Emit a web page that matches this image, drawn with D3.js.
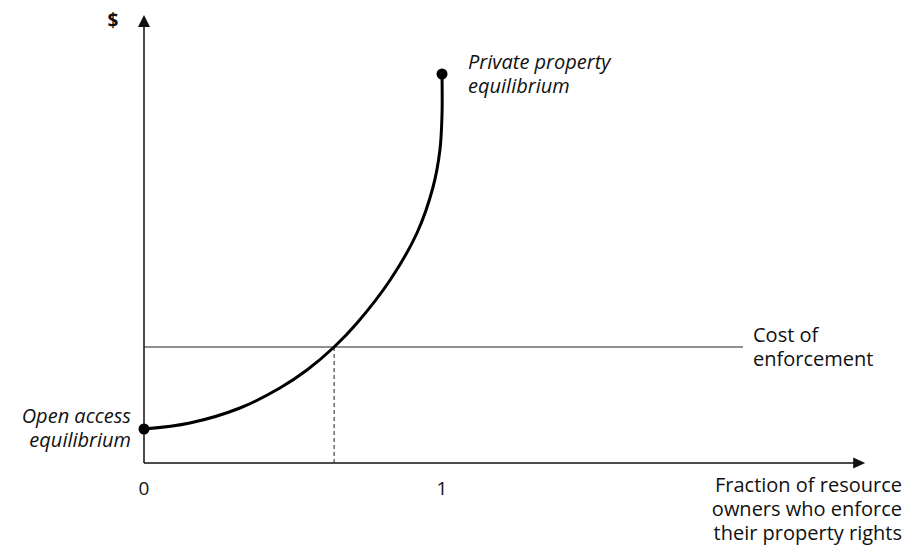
<!DOCTYPE html>
<html>
<head>
<meta charset="utf-8">
<script src="https://cdn.jsdelivr.net/npm/d3@7"></script>
<style>
  body { margin: 0; background: #fff; }
  svg text { font-family: "Open Sans", sans-serif; fill: #111; }
</style>
</head>
<body>
<svg width="911" height="547"></svg>
<script>
// fraction of owners who enforce (x) vs $ (y, arbitrary units)
var curveX = [0, 0.154, 0.322, 0.456, 0.547, 0.638, 0.715, 0.826, 0.916, 0.970, 0.993, 1.0, 1.0];
var curveY = [0.85, 1.0, 1.375, 1.875, 2.325, 2.9, 3.5, 4.575, 5.75, 6.9, 7.825, 8.7, 9.725];
var costOfEnforcement = 2.9;
var xTicks = [0, 1];
var xMax = 2.42;
var yMax = 11.2;

var svg = d3.select('svg');

var x = d3.scaleLinear().domain([0, 1]).range([144, 442]);
var y = d3.scaleLinear().domain([0, 10]).range([463, 63]);

var points = curveX.map((d, i) => [d, curveY[i]]);

// axes
var axisColor = '#111';
svg.append('line')
  .attr('x1', x(0)).attr('y1', y(0))
  .attr('x2', x(xMax) - 8).attr('y2', y(0))
  .attr('stroke', axisColor).attr('stroke-width', 1.5);
svg.append('path')
  .attr('d', `M${x(xMax)},${y(0)} L${x(xMax) - 12},${y(0) - 5.5} L${x(xMax) - 12},${y(0) + 5.5} Z`)
  .attr('fill', axisColor);

svg.append('line')
  .attr('x1', x(0)).attr('y1', y(0))
  .attr('x2', x(0)).attr('y2', y(yMax) + 8)
  .attr('stroke', axisColor).attr('stroke-width', 1.5);
svg.append('path')
  .attr('d', `M${x(0)},${y(yMax)} L${x(0) - 6},${y(yMax) + 12} L${x(0) + 6},${y(yMax) + 12} Z`)
  .attr('fill', axisColor);

// cost of enforcement
svg.append('line')
  .attr('x1', x(0)).attr('y1', y(costOfEnforcement))
  .attr('x2', 743).attr('y2', y(costOfEnforcement))
  .attr('stroke', '#222').attr('stroke-width', 1.2);

// dashed drop line at intersection
var cross = points.find(p => p[1] >= costOfEnforcement);
svg.append('line')
  .attr('x1', x(cross[0])).attr('y1', y(costOfEnforcement))
  .attr('x2', x(cross[0])).attr('y2', y(0))
  .attr('stroke', '#222').attr('stroke-width', 1)
  .attr('stroke-dasharray', '4,3');

// curve
var line = d3.line()
  .x(d => x(d[0]))
  .y(d => y(d[1]))
  .curve(d3.curveCatmullRom.alpha(0.5));

svg.append('path')
  .datum(points)
  .attr('d', line)
  .attr('fill', 'none')
  .attr('stroke', '#000')
  .attr('stroke-width', 3);

// equilibrium dots
svg.selectAll('.dot')
  .data([points[0], points[points.length - 1]])
  .enter()
  .append('circle')
  .classed('dot', true)
  .attr('cx', d => x(d[0]))
  .attr('cy', d => y(d[1]))
  .attr('r', 5.5)
  .attr('fill', '#000');

// tick labels
svg.selectAll('.tick-label')
  .data(xTicks)
  .enter()
  .append('text')
  .classed('tick-label', true)
  .attr('x', d => x(d))
  .attr('y', 495)
  .attr('text-anchor', 'middle')
  .attr('font-size', 19)
  .text(d => d);

svg.append('text')
  .attr('x', 113).attr('y', 27)
  .attr('text-anchor', 'middle')
  .attr('font-size', 19)
  .attr('font-weight', 'bold')
  .text('$');

function multiline(lines, px, py, opts) {
  var t = svg.append('text')
    .attr('font-size', opts.size)
    .attr('font-style', opts.italic ? 'italic' : 'normal')
    .attr('text-anchor', opts.anchor || 'start');
  lines.forEach((l, i) => {
    t.append('tspan').attr('x', px).attr('y', py + i * opts.lh).text(l);
  });
}

multiline(['Private property', 'equilibrium'], 468, 69, {size: 20, italic: true, lh: 24});
multiline(['Open access', 'equilibrium'], 131, 423, {size: 20, italic: true, lh: 24, anchor: 'end'});
multiline(['Cost of', 'enforcement'], 753, 342, {size: 20, lh: 24});
multiline(['Fraction of resource', 'owners who enforce', 'their property rights'], 902, 492, {size: 20, lh: 24, anchor: 'end'});
</script>
</body>
</html>
